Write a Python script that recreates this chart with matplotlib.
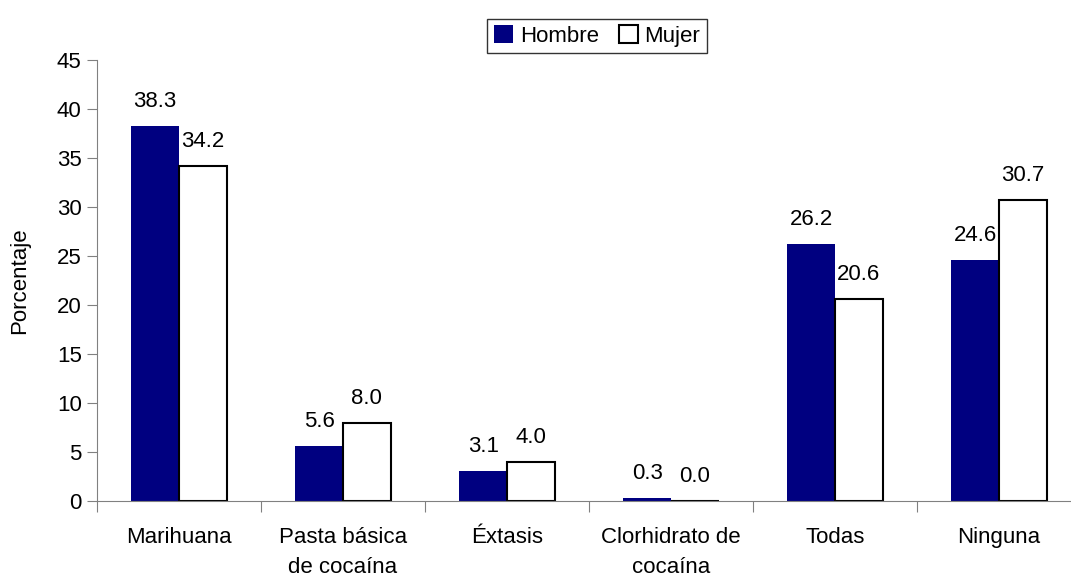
import matplotlib
matplotlib.use('Agg')
import matplotlib.pyplot as plt
import numpy as np

plt.rcParams['font.family'] = ['Liberation Sans', 'DejaVu Sans']

categories = ['Marihuana', 'Pasta básica\nde cocaína', 'Éxtasis',
              'Clorhidrato de\ncocaína', 'Todas', 'Ninguna']
hombre = [38.3, 5.6, 3.1, 0.3, 26.2, 24.6]
mujer = [34.2, 8.0, 4.0, 0.0, 20.6, 30.7]

fs = 16
fig = plt.figure(figsize=(10.71, 5.78), dpi=100)
ax = fig.add_axes([97/1071, 77/578, 984/1071, 441/578])

x = np.arange(len(categories))
w = 0.29
b1 = ax.bar(x - w/2, hombre, w, color='#000080', edgecolor='none',
            label='Hombre')
b2 = ax.bar(x + w/2, mujer, w, color='white', edgecolor='black', linewidth=1.5,
            label='Mujer')

for bars, vals in ((b1, hombre), (b2, mujer)):
    for r, v in zip(bars, vals):
        ax.annotate(f'{v:.1f}', (r.get_x() + r.get_width()/2, v),
                    xytext=(0, 10), textcoords='offset points',
                    ha='center', va='bottom', fontsize=fs)

ax.set_xlim(-0.5, len(categories) - 0.5)
ax.set_ylim(0, 45)
ax.set_yticks(range(0, 46, 5))
ax.set_xticks(np.arange(-0.5, len(categories), 1.0))
ax.set_xticklabels([])
ax.set_xticks(x, minor=True)
ax.set_xticklabels(categories, minor=True, fontsize=fs, linespacing=1.55)
ax.tick_params(axis='x', which='minor', length=0, pad=19)
ax.tick_params(axis='x', which='major', length=8, color='#808080')
ax.tick_params(axis='y', length=7, color='#808080', labelsize=fs, pad=4)
for s in ('top', 'right'):
    ax.spines[s].set_visible(False)
for s in ('left', 'bottom'):
    ax.spines[s].set_color('#808080')
ax.set_ylabel('Porcentaje', fontsize=fs, labelpad=19)

leg = ax.legend(loc='center', bbox_to_anchor=(597/1071, (578 - 36)/578),
                bbox_transform=fig.transFigure, ncol=2, frameon=True,
                fancybox=False, edgecolor='black', fontsize=fs,
                handlelength=0.85, handleheight=0.85, handletextpad=0.3,
                columnspacing=0.9, borderpad=0.3, borderaxespad=0)
leg.get_frame().set_linewidth(1.0)

fig.savefig('out.png', dpi=100, facecolor='white')
